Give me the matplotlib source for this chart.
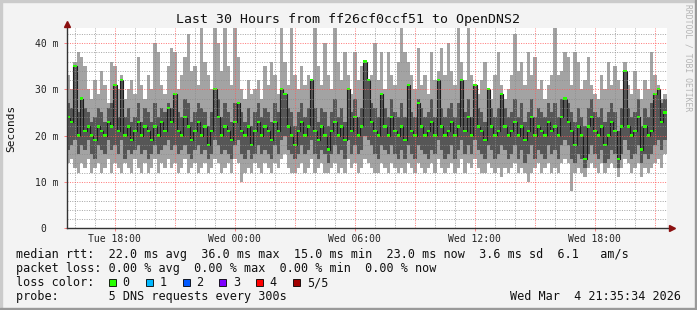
import numpy as np
import matplotlib
matplotlib.use("Agg")
import matplotlib.pyplot as plt
from matplotlib.patches import Rectangle

W, H = 697, 310

# 10 minute steps over the last 30 hours (values in ms)
hi = [33, 30, 36, 38, 37, 35, 30, 28, 32, 29,
      34, 31, 27, 36, 35, 30, 33, 28, 30, 32,
      29, 37, 31, 28, 33, 30, 40, 38, 31, 29,
      35, 39, 38, 30, 33, 37, 42, 34, 35, 31,
      44, 36, 33, 30, 44, 40, 34, 44, 35, 31,
      44, 37, 30, 28, 32, 29, 30, 32, 28, 35,
      31, 36, 33, 29, 44, 36, 31, 44, 33, 30,
      35, 31, 33, 32, 44, 35, 31, 40, 33, 30,
      44, 36, 32, 38, 33, 29, 38, 32, 35, 36,
      30, 33, 40, 32, 38, 30, 38, 33, 31, 36,
      44, 38, 36, 33, 30, 39, 31, 33, 29, 38,
      32, 34, 39, 33, 40, 34, 31, 44, 36, 32,
      44, 33, 31, 29, 32, 36, 30, 28, 33, 38,
      31, 28, 30, 33, 42, 34, 36, 31, 38, 33,
      37, 30, 32, 28, 31, 33, 44, 33, 34, 38,
      37, 31, 38, 36, 30, 32, 37, 31, 29, 28,
      33, 30, 36, 31, 35, 32, 30, 36, 31, 29,
      34, 30, 28, 32, 30, 38, 33, 31, 28, 29]
q3 = [27, 26, 35, 25, 28, 26, 25, 23, 24, 26,
      25, 23, 26, 27, 31, 24, 32, 24, 26, 23,
      24, 27, 23, 26, 25, 23, 27, 24, 26, 25,
      27, 26, 29, 25, 24, 28, 27, 23, 25, 27,
      26, 25, 22, 25, 30, 28, 24, 27, 25, 23,
      27, 27, 25, 23, 26, 22, 25, 27, 24, 26,
      25, 23, 27, 25, 30, 29, 26, 25, 22, 25,
      27, 24, 26, 32, 26, 23, 26, 25, 22, 25,
      28, 24, 26, 23, 30, 25, 28, 24, 26, 36,
      32, 27, 26, 24, 29, 26, 24, 28, 25, 24,
      27, 24, 31, 25, 24, 28, 26, 24, 25, 28,
      24, 32, 26, 24, 26, 27, 24, 27, 32, 25,
      28, 24, 31, 26, 25, 23, 30, 26, 24, 26,
      29, 26, 24, 25, 28, 24, 27, 23, 25, 28,
      24, 26, 25, 24, 27, 25, 27, 24, 28, 28,
      27, 25, 23, 26, 24, 22, 26, 28, 25, 24,
      26, 23, 25, 27, 25, 21, 26, 34, 26, 24,
      25, 28, 22, 26, 24, 27, 29, 30, 27, 28]
med = [24, 23, 35, 20, 28, 21, 22, 20, 19, 22,
       21, 20, 23, 22, 31, 21, 32, 20, 22, 19,
       21, 23, 20, 22, 21, 19, 22, 20, 23, 21,
       26, 23, 29, 21, 20, 24, 22, 19, 21, 23,
       20, 22, 18, 21, 30, 24, 20, 22, 21, 19,
       23, 27, 21, 20, 22, 18, 21, 23, 20, 22,
       21, 19, 23, 21, 30, 29, 22, 20, 18, 21,
       23, 20, 22, 32, 21, 19, 22, 20, 17, 21,
       23, 20, 22, 19, 30, 21, 24, 20, 22, 36,
       32, 23, 21, 20, 29, 22, 20, 24, 21, 20,
       22, 19, 31, 21, 20, 27, 22, 20, 21, 23,
       20, 32, 22, 20, 21, 23, 20, 22, 32, 21,
       24, 20, 31, 22, 21, 19, 30, 22, 20, 21,
       29, 22, 20, 21, 23, 20, 22, 19, 21, 24,
       20, 22, 21, 20, 23, 21, 22, 20, 24, 28,
       23, 21, 18, 22, 20, 15, 22, 24, 21, 20,
       22, 18, 20, 23, 21, 15, 22, 34, 22, 20,
       21, 24, 17, 22, 20, 21, 29, 30, 23, 25]
q1 = [17, 18, 19, 16, 18, 17, 19, 16, 15, 18,
      17, 16, 19, 17, 18, 16, 19, 15, 17, 16,
      17, 18, 16, 17, 15, 16, 18, 16, 17, 18,
      19, 17, 18, 16, 17, 18, 16, 15, 17, 18,
      16, 17, 15, 16, 19, 18, 16, 17, 16, 15,
      18, 19, 16, 15, 17, 15, 16, 18, 16, 17,
      16, 15, 18, 16, 19, 20, 17, 16, 15, 16,
      18, 16, 17, 19, 16, 15, 17, 16, 14, 16,
      18, 16, 17, 15, 19, 16, 18, 16, 17, 20,
      19, 18, 16, 15, 18, 17, 16, 18, 16, 15,
      17, 15, 18, 16, 15, 18, 17, 16, 15, 17,
      16, 19, 17, 15, 16, 18, 15, 17, 19, 16,
      18, 16, 19, 17, 16, 15, 18, 17, 15, 16,
      18, 17, 15, 16, 18, 15, 17, 14, 16, 18,
      15, 17, 16, 15, 18, 16, 17, 15, 18, 19,
      18, 15, 14, 16, 15, 13, 16, 18, 16, 15,
      17, 14, 15, 17, 16, 13, 16, 19, 17, 15,
      16, 18, 14, 16, 15, 16, 18, 19, 17, 19]
lo = [14, 15, 13, 12, 14, 13, 15, 12, 13, 14,
      12, 13, 15, 12, 14, 13, 12, 14, 13, 12,
      15, 13, 12, 14, 12, 13, 15, 12, 14, 13,
      15, 13, 14, 12, 13, 15, 12, 13, 14, 12,
      13, 14, 12, 13, 15, 14, 12, 13, 14, 12,
      15, 14, 10, 12, 13, 12, 14, 13, 12, 14,
      13, 12, 14, 13, 15, 16, 13, 12, 12, 13,
      14, 12, 13, 15, 12, 13, 14, 12, 12, 13,
      14, 12, 13, 12, 15, 13, 14, 12, 13, 15,
      14, 13, 12, 12, 14, 13, 12, 14, 13, 12,
      13, 12, 14, 13, 12, 14, 13, 12, 13, 14,
      12, 15, 13, 12, 13, 14, 12, 13, 15, 12,
      14, 13, 15, 13, 12, 12, 14, 13, 12, 13,
      11, 13, 12, 13, 14, 12, 13, 12, 10, 12,
      13, 14, 12, 13, 14, 12, 13, 12, 14, 15,
      14, 8, 12, 13, 12, 11, 13, 14, 13, 12,
      14, 12, 13, 14, 13, 11, 13, 15, 14, 12,
      13, 14, 11, 13, 12, 13, 14, 15, 13, 16]

tick_labels = ["Tue 18:00", "Wed 00:00", "Wed 06:00", "Wed 12:00", "Wed 18:00"]
first_tick = 2.407  # hours after start (Tue 15:35:34)
loss_labels = ["0", "1", "2", "3", "4", "5/5"]
loss_colors = ["#26ff00", "#00b8ff", "#0059ff", "#7e00ff", "#ff0000", "#a10000"]

MONO = "DejaVu Sans Mono"
YMAX = 43.3
GRID_MINOR = (0.55, 0.55, 0.55, 0.75)
GRID_MAJOR = (1.0, 0.35, 0.35, 0.8)


def fx(px):
    return px / W


def fy(py):
    return 1 - py / H


fig = plt.figure(figsize=(W / 100, H / 100), dpi=100, facecolor="#f3f3f3")

# 3d frame like rrdtool
fig.add_artist(Rectangle((0, fy(2)), 1, 2 / H, color="#cbcbcb", transform=fig.transFigure))
fig.add_artist(Rectangle((0, 0), 2 / W, 1, color="#cbcbcb", transform=fig.transFigure))
fig.add_artist(Rectangle((0, 0), 1, 2 / H, color="#999999", transform=fig.transFigure))
fig.add_artist(Rectangle((1 - 2 / W, 0), 2 / W, 1, color="#999999", transform=fig.transFigure))

ax = fig.add_axes([fx(66.7), fy(228.3), 600 / W, (228.3 - 27.7) / H])
ax.set_facecolor("white")

n = len(med)
t = np.arange(n + 1) / 6.0


def ext(a):
    return np.append(a, a[-1])


ax.fill_between(t, ext(lo), ext(hi), step="post", color="#a3a3a3", lw=0, zorder=1)
ax.fill_between(t, ext(q1), ext(q3), step="post", color="#565656", lw=0, zorder=2)
ax.step(t, ext(med), where="post", color="#1c1c1c", lw=0.8, zorder=3)
ax.bar(t[:-1], 0.5, bottom=np.array(med) - 0.25, width=1 / 6.0, align="edge",
       color=loss_colors[0], lw=0, zorder=4)

ax.set_xlim(0, 30)
ax.set_ylim(0, YMAX)

# grid on top, like rrdtool
for h in np.arange(first_tick - 2, 30, 1.0):
    major = abs((h - first_tick) % 3) < 1e-6
    ax.axvline(h, color=GRID_MAJOR if major else GRID_MINOR, lw=0.72,
               ls=(0, (1, 1.4)), zorder=5)
for v in range(2, 44, 2):
    ax.axhline(v, color=GRID_MAJOR if v % 10 == 0 else GRID_MINOR, lw=0.72,
               ls=(0, (1, 1.4)), zorder=5)

for s in ax.spines.values():
    s.set_visible(False)

# axes with arrows
ax.plot([0, 0], [0, 1.015], transform=ax.transAxes, color="#333333", lw=1, clip_on=False, zorder=6)
ax.plot([0, 1.005], [0, 0], transform=ax.transAxes, color="#333333", lw=1, clip_on=False, zorder=6)
ax.plot(0, 1.02, transform=ax.transAxes, marker="^", color="#8b1010", ms=4, clip_on=False, zorder=7)
ax.plot(1.008, 0, transform=ax.transAxes, marker=">", color="#8b1010", ms=4, clip_on=False, zorder=7)

ax.set_xticks([first_tick + 6 * i for i in range(len(tick_labels))])
ax.set_xticklabels(tick_labels, family=MONO, fontsize=7, color="#222222")
ax.set_yticks([0, 10, 20, 30, 40])
ax.set_yticklabels(["0  ", "10 m", "20 m", "30 m", "40 m"], family=MONO, fontsize=7, color="#222222")
ax.tick_params(axis="both", length=2, width=0.7, color="#ff8080")
ax.tick_params(axis="x", pad=2)
ax.tick_params(axis="y", pad=4)

fig.text(fx(347.8), fy(19), "Last 30 Hours from ff26cf0ccf51 to OpenDNS2",
         family=MONO, fontsize=9.5, ha="center", va="center", color="#111111")
fig.text(fx(11), fy(128), "Seconds", family=MONO, fontsize=8, rotation=90,
         ha="center", va="center", color="#111111")
fig.text(fx(688), fy(4), "RRDTOOL / TOBI OETIKER", family=MONO, fontsize=5.8,
         rotation=270, ha="center", va="top", color="#b4b4b4")

legend_lines = [
    "median rtt:  22.0 ms avg  36.0 ms max  15.0 ms min  23.0 ms now  3.6 ms sd  6.1   am/s",
    "packet loss: 0.00 % avg  0.00 % max  0.00 % min  0.00 % now",
    "loss color:",
    "probe:       5 DNS requests every 300s",
]
for i, line in enumerate(legend_lines):
    fig.text(fx(16), fy(254.5 + 14 * i), line, family=MONO, fontsize=8.5,
             ha="left", va="center", color="#111111")

box_x = [109, 145.7, 182.7, 219.3, 256, 293.3]
for bx, lab, col in zip(box_x, loss_labels, loss_colors):
    fig.add_artist(Rectangle((fx(bx), fy(285.5)), 7 / W, 7 / H, facecolor=col,
                             edgecolor="#000000", lw=0.6, transform=fig.transFigure))
    fig.text(fx(bx + 13.5), fy(282.5), lab, family=MONO, fontsize=8.5,
             ha="left", va="center", color="#111111")

fig.text(fx(681), fy(296.5), "Wed Mar  4 21:35:34 2026", family=MONO, fontsize=8.5,
         ha="right", va="center", color="#111111")

fig.savefig("out.png", dpi=100, facecolor=fig.get_facecolor())
